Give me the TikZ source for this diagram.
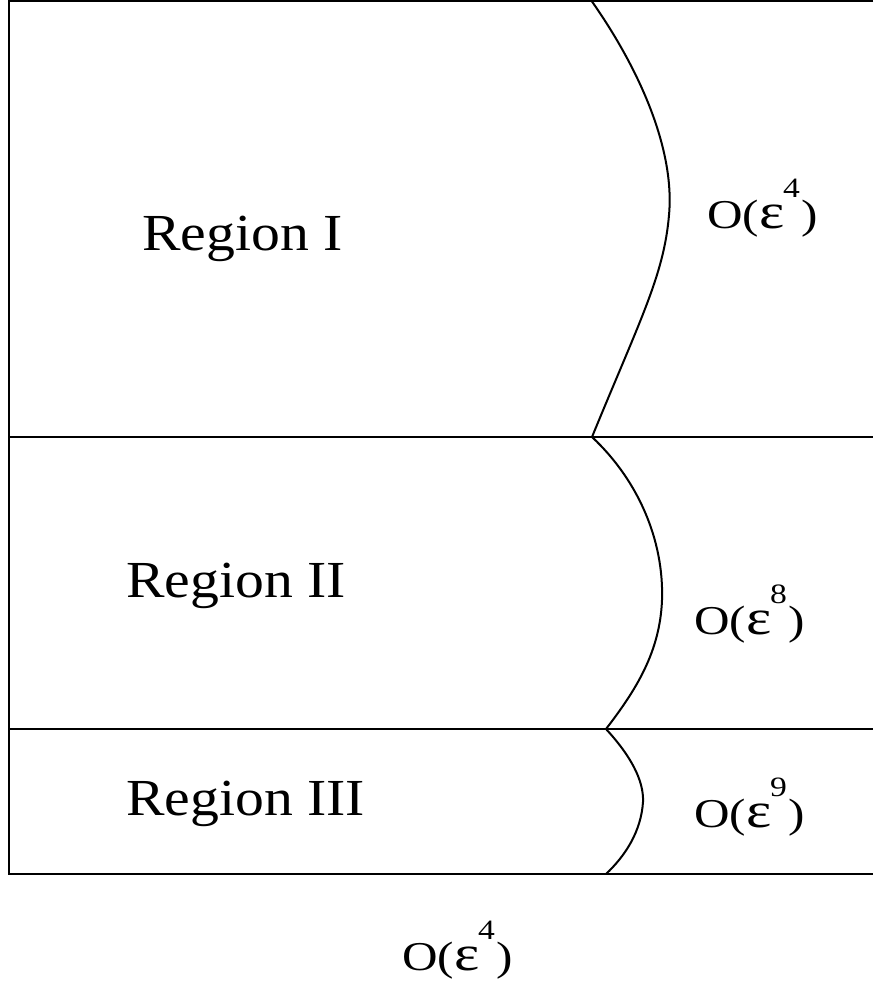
\documentclass[tikz,border=0pt]{standalone}
\usepackage{fontspec}
\setmainfont{Liberation Serif}
\newcommand{\oeps}[1]{O({\fontsize{50}{50}\selectfont ε}\kern-1pt\raisebox{31pt}{\fontsize{28}{28}\selectfont #1}\kern1pt)}
\tikzset{
  frameline/.style={line width=2pt},
  bnd/.style={line width=2pt, line join=round},
  reglabel/.style={anchor=base west, inner sep=0pt, xscale=1.11, font=\fontsize{52}{52}\selectfont},
  ordlabel/.style={anchor=base west, inner sep=0pt, xscale=1.2, font=\fontsize{41}{41}\selectfont}
}
\begin{document}
\begin{tikzpicture}[x=1pt,y=-1pt]
\useasboundingbox (0,0) rectangle (873,990);
% frame
\coordinate (tl) at (9,1.5);
\coordinate (tr) at (873,1.5);
\coordinate (bl) at (9,874);
\coordinate (br) at (873,874);
\draw[frameline] (tr) -- (tl) -- (bl) -- (br);
\coordinate (m1l) at (9,437);
\coordinate (m1r) at (873,437);
\coordinate (m2l) at (9,729);
\coordinate (m2r) at (873,729);
\draw[frameline] (m1l) -- (m1r);
\draw[frameline] (m2l) -- (m2r);
% boundaries
\coordinate (c0) at (592,1.5);
\coordinate (c1) at (592,437);
\coordinate (c2) at (606,729);
\coordinate (c3) at (606,874);
\draw[bnd] (c0) .. controls (640,70) and (675,150) .. (669,215)
                .. controls (664,275) and (640,320) .. (c1);
\draw[bnd] (c1) .. controls (638,480) and (664,540) .. (662,600)
                .. controls (660,652) and (636,690) .. (c2);
\draw[bnd] (c2) .. controls (630,755) and (644,780) .. (643,802)
                .. controls (641,832) and (625,856) .. (c3);
% labels
\node[reglabel] (r1) at (142,250) {Region I};
\node[reglabel] (r2) at (126,597) {Region II};
\node[reglabel] (r3) at (126,815) {Region III};
\node[ordlabel] (o1) at (707,228) {\oeps{4}};
\node[ordlabel] (o2) at (694,634) {\oeps{8}};
\node[ordlabel] (o3) at (694,827) {\oeps{9}};
\node[ordlabel] (o4) at (402,970) {\oeps{4}};
\end{tikzpicture}
\end{document}
